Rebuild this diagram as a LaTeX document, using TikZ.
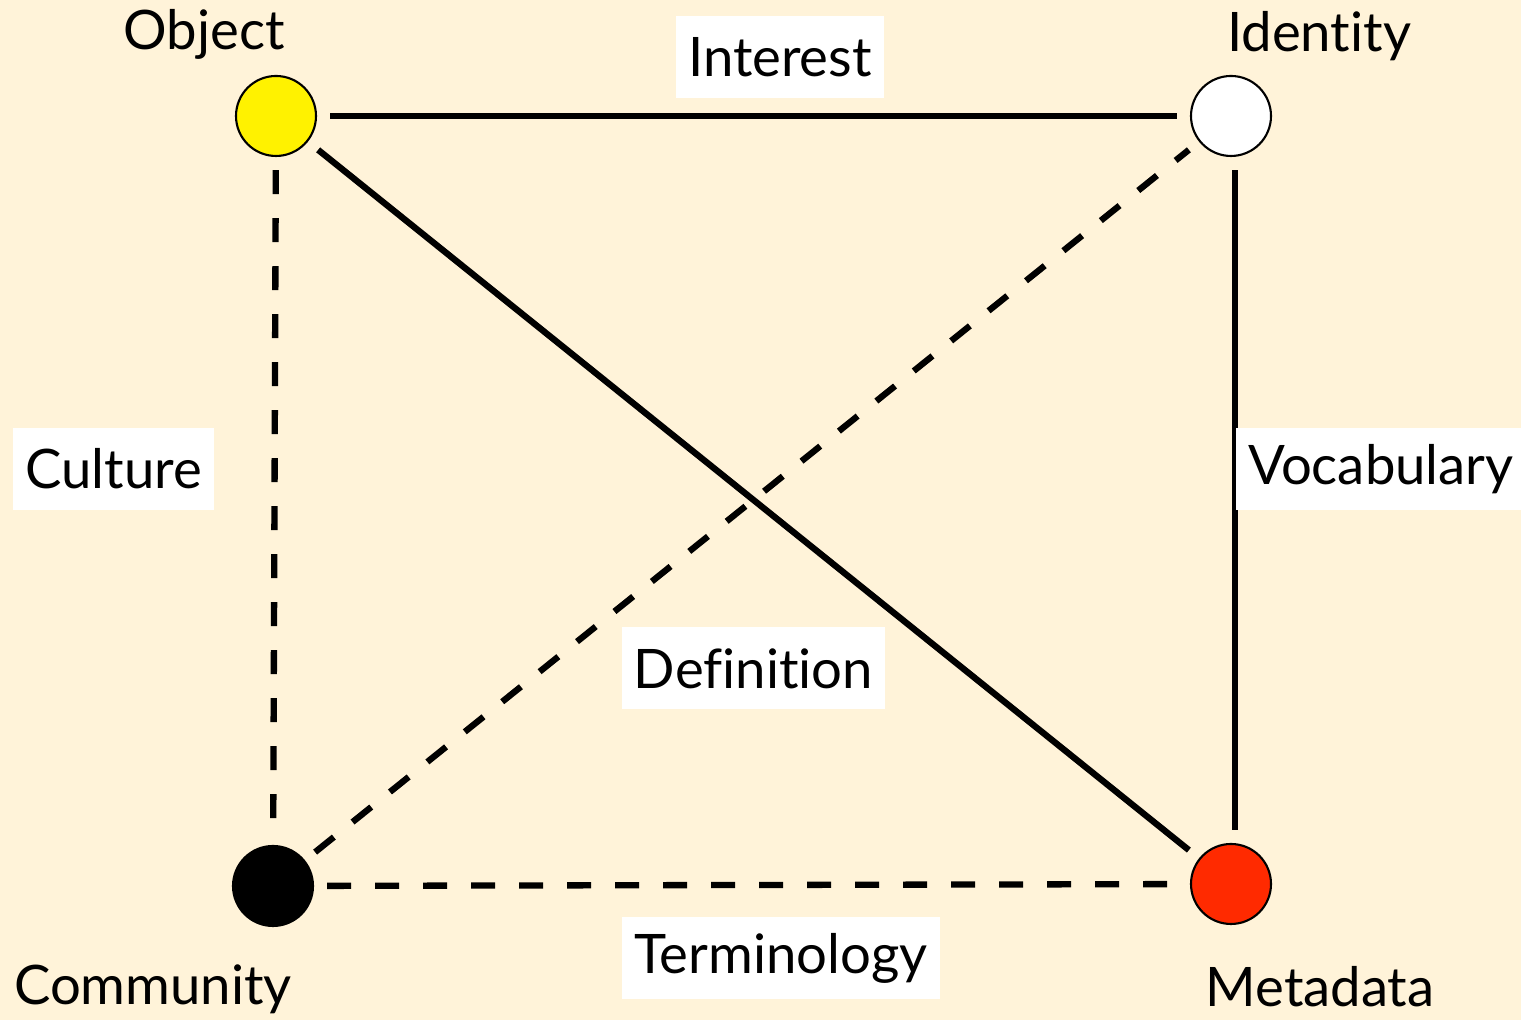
\documentclass[tikz,border=0pt]{standalone}
\usepackage{fontspec}
\setmainfont{Lato}[Ligatures={NoCommon}]
\definecolor{paper}{RGB}{255,243,217}
\definecolor{metared}{RGB}{255,42,0}
\begin{document}
\begin{tikzpicture}[x=1cm,y=1cm,font=\fontsize{15.5}{18}\selectfont,
  main node/.style={circle,draw,line width=0.6pt,minimum size=0.8cm,inner sep=0pt},
  tag node/.style={fill=white,inner xsep=0.12cm,inner ysep=0pt,minimum height=0.82cm},
  name node/.style={anchor=base,inner sep=0pt},
  strong link/.style={line width=1.8pt,shorten >=0.13cm,shorten <=0.13cm},
  weak link/.style={strong link,dash pattern=on 0.24cm off 0.24cm}]
\useasboundingbox (0,0) rectangle (15.21,10.20);
\fill[paper] (0,0) rectangle (15.21,10.20);
\begin{scope}
\node[main node,fill=yellow] (obj) at (2.76,9.04) {};
\node[main node,fill=white] (ide) at (12.31,9.04) {};
\node[main node,fill=black] (com) at (2.73,1.34) {};
\node[main node,fill=metared] (met) at (12.31,1.36) {};
%\node[main node] (v) at (,) {};
\end{scope}
\begin{scope}
\draw[strong link] (obj) -- (ide);
\draw[strong link] (obj) -- (met);
\draw[strong link] ([xshift=0.04cm]ide.south) -- ([xshift=0.04cm]met.north);
\draw[weak link] (obj) -- (com);
\draw[weak link] (com) -- (ide);
\draw[weak link] (com) -- (met);
\end{scope}
\begin{scope}
\node[name node] (objname) at (2.04,9.70) {Object};
\node[name node] (idename) at (13.19,9.68) {Identity};
\node[name node] (comname) at (1.53,0.15) {Community};
\node[name node] (metname) at (13.20,0.13) {Metadata};
\end{scope}
\begin{scope}
\node[tag node] (interest) at (7.80,9.625) {Interest};
\node[tag node] (culture) at (1.135,5.51) {Culture};
\node[tag node] (vocab) at (13.81,5.51) {Vocabulary};
\node[tag node] (defn) at (7.535,3.515) {Definition};
\node[tag node] (term) at (7.81,0.62) {Terminology};
\end{scope}
\end{tikzpicture}
\end{document}
